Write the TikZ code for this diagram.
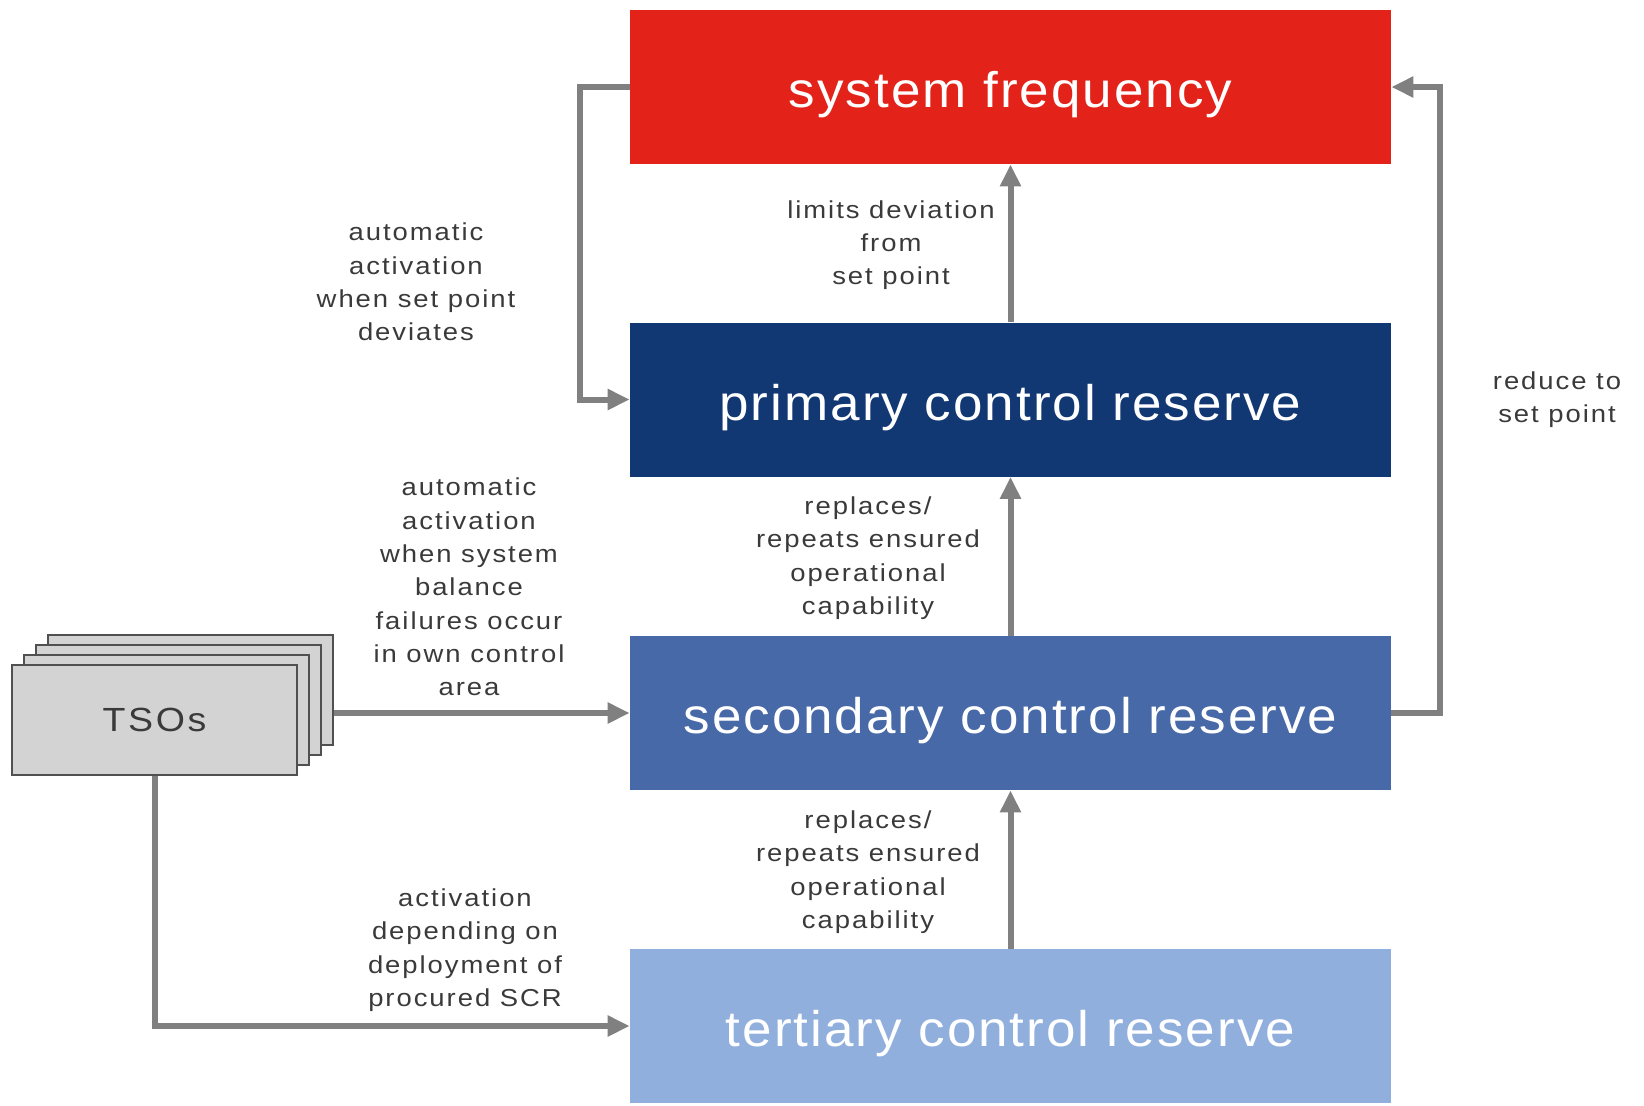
\documentclass[tikz,border=0pt]{standalone}
\usepackage{fontspec}
\setmainfont{Liberation Sans}
\newfontfamily\lblfont[FakeStretch=1.12,LetterSpace=8]{Liberation Sans}
\newfontfamily\boxfont[FakeStretch=1.06,LetterSpace=4]{Liberation Sans}
\usetikzlibrary{arrows.meta}
\definecolor{sfred}{RGB}{227,35,26}
\definecolor{pcrblue}{RGB}{18,56,115}
\definecolor{scrblue}{RGB}{72,105,168}
\definecolor{tcrblue}{RGB}{145,175,220}
\definecolor{arrowgray}{RGB}{128,128,128}
\definecolor{tsogray}{RGB}{211,211,211}
\definecolor{tsoedge}{RGB}{80,80,80}
\definecolor{lblgray}{RGB}{58,58,58}

\begin{document}
\begin{tikzpicture}[x=0.5pt,y=0.5pt,yscale=-1,xscale=1,
    reservebox/.style={minimum width=380.5pt,minimum height=77pt,inner sep=0pt,text height=25.5pt,text depth=5pt,text=white,font=\boxfont\fontsize{25}{30}\selectfont},
    tsobox/.style={draw=tsoedge,line width=0.8pt,fill=tsogray,minimum width=142.5pt,minimum height=55pt,inner sep=0pt},
    flow/.style={draw=arrowgray,line width=3pt,-{Triangle[length=11pt,width=10pt]}},
    lbl/.style={align=center,text=lblgray,inner sep=0pt,font=\lblfont\fontsize{12.25}{16.65}\selectfont}]
    \useasboundingbox (0,0) rectangle (1644,1105);
    
    %Shape: Rectangle [id:sf] 
    \node [reservebox,fill=sfred] (sf) at (1010.5,87) {system frequency};
    %Shape: Rectangle [id:pcr] 
    \node [reservebox,fill=pcrblue] (pcr) at (1010.5,399.5) {primary control reserve};
    %Shape: Rectangle [id:scr] 
    \node [reservebox,fill=scrblue] (scr) at (1010.5,713) {secondary control reserve};
    %Shape: Rectangle [id:tcr] 
    \node [reservebox,fill=tcrblue] (tcr) at (1010.5,1026) {tertiary control reserve};
    
    %Shape: Stack of Rectangles [id:tsos] 
    \foreach \k in {3,2,1}
        \node [tsobox] (tsos\k) at ({154.5+12*\k},{720-10*\k}) {};
    \node [tsobox,text=lblgray,font=\lblfont\fontsize{16.75}{20}\selectfont] (tsos) at (154.5,720) {TSOs};
    
    %Straight Lines [id:loops] 
    \draw [flow] (sf.west) -- ++(-50,0) |- (pcr.west);
    \draw [flow] (scr.east) -- ++(49,0) |- (sf.east);
    %Straight Lines [id:ups] 
    \draw [flow] (pcr.north) -- (sf.south);
    \draw [flow] (scr.north) -- (pcr.south);
    \draw [flow] (tcr.north) -- (scr.south);
    %Straight Lines [id:tsoflows] 
    \draw [flow] (tsos3.east |- scr.west) -- (scr.west);
    \draw [flow] (tsos.south) |- (tcr.west);
    
    % Text Node
    \node [lbl] (actpcr) at (416,282) {automatic\\activation\\when set point\\deviates};
    % Text Node
    \node [lbl] (limdev) at (891,245) {limits deviation\\from\\set point};
    % Text Node
    \node [lbl] (actscr) at (469,587) {automatic\\activation\\when system\\balance\\failures occur\\in own control\\area};
    % Text Node
    \node [lbl] (reppcr) at (868,558) {replaces/\\repeats ensured\\operational\\capability};
    % Text Node
    \node [lbl] (repscr) at (868,872) {replaces/\\repeats ensured\\operational\\capability};
    % Text Node
    \node [lbl] (acttcr) at (465,950) {activation\\depending on\\deployment of\\procured SCR};
    % Text Node
    \node [lbl] (redsp) at (1557,400) {reduce to\\set point};
    
\end{tikzpicture}
\end{document}
